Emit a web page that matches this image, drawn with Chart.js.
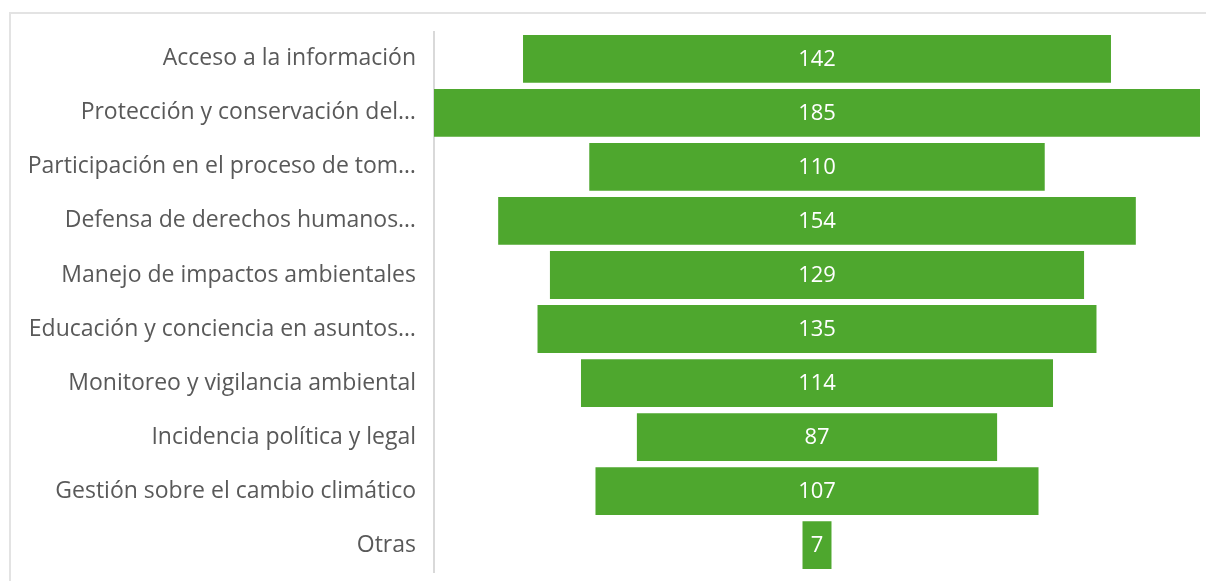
<!DOCTYPE html>
<html>
<head>
<meta charset="utf-8">
<script src="https://cdn.jsdelivr.net/npm/chart.js@4"></script>
<style>
  html, body { margin: 0; padding: 0; background: #fff; overflow: hidden; }
  #frame {
    position: absolute; left: 9px; top: 12px; width: 1300px; height: 700px;
    border-left: 2px solid #e3e3e3; border-top: 2px solid #e3e3e3;
  }
  #wrap { position: absolute; left: 0; top: 0; width: 1206px; height: 604px; }
</style>
</head>
<body>
<div id="frame"></div>
<div id="wrap"><canvas id="funnel"></canvas></div>
<script>
// Data
const categories = [
    "Acceso a la información",
    "Protección y conservación del…",
    "Participación en el proceso de tom…",
    "Defensa de derechos humanos…",
    "Manejo de impactos ambientales",
    "Educación y conciencia en asuntos…",
    "Monitoreo y vigilancia ambiental",
    "Incidencia política y legal",
    "Gestión sobre el cambio climático",
    "Otras"
];
const values = [142, 185, 110, 154, 129, 135, 114, 87, 107, 7];

const maxValue = Math.max(...values);
const barColor = '#4ea72e';

// Centered bars: each bar floats around the middle of the axis
const floating = values.map(v => [(maxValue - v) / 2, (maxValue + v) / 2]);

const valueLabels = {
    id: 'valueLabels',
    afterDatasetsDraw(chart) {
        const { ctx } = chart;
        const meta = chart.getDatasetMeta(0);
        ctx.save();
        ctx.fillStyle = '#ffffff';
        ctx.font = '22px "Open Sans", sans-serif';
        ctx.textAlign = 'center';
        ctx.textBaseline = 'middle';
        meta.data.forEach((bar, i) => {
            const cx = (bar.x + bar.base) / 2;
            ctx.fillText(String(values[i]), cx, bar.y + 1);
        });
        ctx.restore();
    }
};

const ctx = document.getElementById('funnel').getContext('2d');
new Chart(ctx, {
    type: 'bar',
    data: {
        labels: categories,
        datasets: [{
            data: floating,
            backgroundColor: barColor,
            borderWidth: 0,
            borderSkipped: false,
            barPercentage: 0.885,
            categoryPercentage: 1
        }]
    },
    options: {
        indexAxis: 'y',
        responsive: true,
        maintainAspectRatio: false,
        animation: false,
        layout: { padding: { top: 26, bottom: 0, right: 6, left: 0 } },
        scales: {
            x: {
                display: false,
                min: 0,
                max: maxValue
            },
            y: {
                afterFit: (scale) => { scale.width = 434; },
                grid: { display: false, drawTicks: false },
                border: { display: true, color: '#d9d9d9', width: 2 },
                ticks: {
                    color: '#595959',
                    padding: 18,
                    font: { family: '"Open Sans", sans-serif', size: 23 },
                    autoSkip: false
                }
            }
        },
        plugins: {
            legend: { display: false },
            tooltip: { enabled: false }
        }
    },
    plugins: [valueLabels]
});
</script>
</body>
</html>
